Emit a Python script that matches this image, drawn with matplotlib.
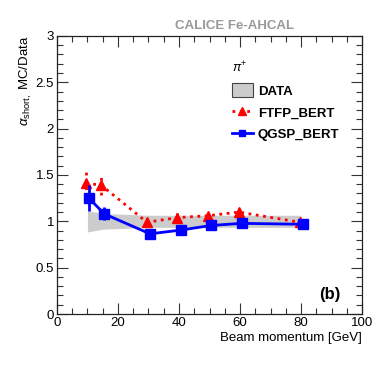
#!/usr/bin/env python3
"""alpha_short MC/Data ratio vs beam momentum (CALICE Fe-AHCAL, pi+)."""

import matplotlib
matplotlib.use("Agg")
import matplotlib.pyplot as plt
from matplotlib.lines import Line2D
from matplotlib.patches import Patch
from matplotlib.ticker import MultipleLocator

plt.rcParams["font.family"] = ["Liberation Sans", "DejaVu Sans"]
plt.rcParams["mathtext.fontset"] = "custom"
plt.rcParams["mathtext.rm"] = "Liberation Sans"
plt.rcParams["mathtext.it"] = "Liberation Sans:italic"

# data band (ratio = 1 with systematic uncertainty)
data_x = [10, 15, 30, 40, 50, 60, 80]
data_err = [0.115, 0.085, 0.065, 0.065, 0.065, 0.065, 0.065]

# FTFP_BERT (drawn slightly left of nominal energy)
ftfp_x = [9.5, 14.5, 29.5, 39.5, 49.5, 59.5, 79.5]
ftfp_y = [1.41, 1.39, 0.99, 1.04, 1.06, 1.10, 0.99]
ftfp_err = [0.15, 0.11, 0.05, 0.05, 0.04, 0.04, 0.02]

# QGSP_BERT (drawn slightly right of nominal energy)
qgsp_x = [10.5, 15.5, 30.5, 40.5, 50.5, 60.5, 80.5]
qgsp_y = [1.25, 1.08, 0.865, 0.905, 0.955, 0.978, 0.968]
qgsp_err = [0.14, 0.07, 0.015, 0.015, 0.015, 0.015, 0.015]

fig = plt.figure(figsize=(3.82, 3.66), dpi=100)
ax = fig.add_axes([0.149, 0.142, 0.799, 0.760])

lo = [1 - e for e in data_err]
hi = [1 + e for e in data_err]
ax.fill_between(data_x, lo, hi, color="#cccccc", linewidth=0, zorder=1)

ax.errorbar(ftfp_x, ftfp_y, yerr=ftfp_err, color="#ff0000", linestyle=":",
            linewidth=2, marker="^", markersize=7, capsize=0, zorder=3)
ax.errorbar(qgsp_x, qgsp_y, yerr=qgsp_err, color="#0000ff", linestyle="-",
            linewidth=2, marker="s", markersize=6.5, capsize=0, zorder=4)
# dotted error bars for FTFP
for c in ax.containers[0][2]:
    c.set_linestyle(":")

ax.set_xlim(0, 100)
ax.set_ylim(0, 3)
ax.xaxis.set_major_locator(MultipleLocator(20))
ax.xaxis.set_minor_locator(MultipleLocator(5))
ax.yaxis.set_major_locator(MultipleLocator(0.5))
ax.yaxis.set_minor_locator(MultipleLocator(0.1))
ax.set_xticks([0, 20, 40, 60, 80, 100])
ax.set_xticklabels(["0", "20", "40", "60", "80", "100"])
ax.set_yticks([0, 0.5, 1, 1.5, 2, 2.5, 3])
ax.set_yticklabels(["0", "0.5", "1", "1.5", "2", "2.5", "3"])
ax.tick_params(which="both", direction="in", top=True, right=True,
               labelsize=9.5, pad=2, color="#333333")
ax.tick_params(which="major", length=8, width=0.8)
ax.tick_params(which="minor", length=4, width=0.8)
for s in ax.spines.values():
    s.set_linewidth(0.9)
    s.set_color("#222222")

ax.set_xlabel("Beam momentum [GeV]", fontsize=9.5, loc="right", labelpad=2)
ax.set_ylabel(r"$\alpha_{\rm short,}$ MC/Data", fontsize=9.5, loc="top",
              labelpad=1)

fig.text(0.615, 0.928, "CALICE Fe-AHCAL", color="#999999", fontsize=9.5,
         fontweight="bold", ha="center", va="center")

handles = [
    Patch(facecolor="#cccccc", edgecolor="#444444", linewidth=0.8),
    Line2D([], [], color="#ff0000", linestyle=":", linewidth=2,
           marker="^", markersize=6),
    Line2D([], [], color="#0000ff", linestyle="-", linewidth=2,
           marker="s", markersize=5),
]
leg = ax.legend(handles, ["DATA", "FTFP_BERT", "QGSP_BERT"],
                title=r"$\pi^{+}$", loc="upper left",
                bbox_to_anchor=(0.555, 0.93), frameon=False,
                prop={"size": 9.5, "weight": "bold"},
                handlelength=1.6, handleheight=1.3, handletextpad=0.4,
                labelspacing=0.55, borderaxespad=0)
leg._legend_box.align = "left"
leg.get_title().set_fontsize(9)

ax.text(0.93, 0.07, "(b)", transform=ax.transAxes, fontsize=12,
        fontweight="bold", ha="right", va="center")

fig.savefig("out.png", dpi=100)
